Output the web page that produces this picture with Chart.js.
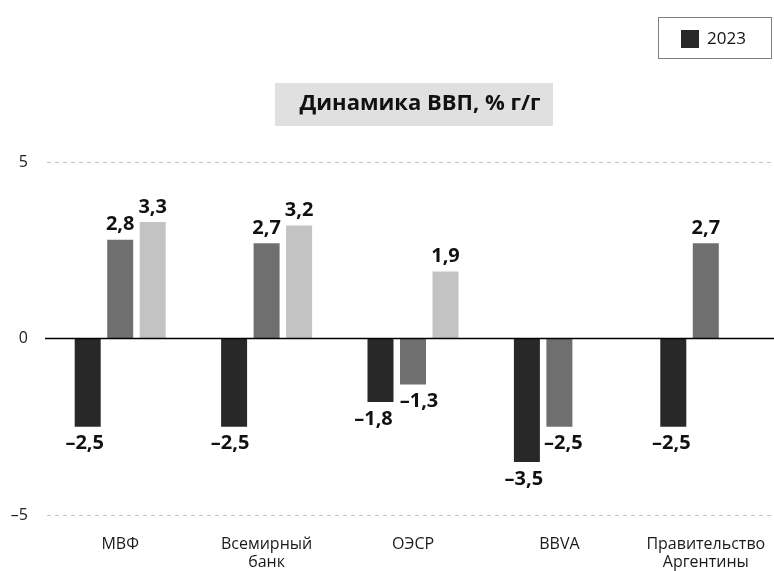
<!DOCTYPE html>
<html lang="ru">
<head>
<meta charset="utf-8">
<script src="https://cdn.jsdelivr.net/npm/chart.js@4.4.1/dist/chart.umd.min.js"></script>
<style>
    html, body { margin: 0; padding: 0; background: #fff; overflow: hidden; }
    #wrap { width: 780px; height: 571px; }
</style>
</head>
<body>
<div id="wrap"><canvas id="gdpChart" width="780" height="571"></canvas></div>
<script>
// Данные
const categories = [['МВФ'], ['Всемирный', 'банк'], ['ОЭСР'], ['BBVA'], ['Правительство', 'Аргентины']];
const years = ['2023', '2024', '2025'];
const values2023 = [-2.5, -2.5, -1.8, -3.5, -2.5];
const values2024 = [2.8, 2.7, -1.3, -2.5, 2.7];
const values2025 = [3.3, 3.2, 1.9, null, null];
const yTicks = [-5, 0, 5];
const chartTitle = 'Динамика ВВП, % г/г';

const colors = ['#282828', '#6f6f6f', '#c3c3c3'];
const FONT = '"Open Sans", "Noto Sans", sans-serif';

function fmt(v) {
    const s = Math.abs(v).toFixed(1).replace('.', ',');
    return v < 0 ? '–' + s : s;
}

// подписи значений над/под столбцами
const labelNudge = { '0-0': -3, '0-1': -4, '0-2': -7, '0-3': -3, '0-4': -2, '1-2': 6, '1-3': 4 };
const valueLabels = {
    id: 'valueLabels',
    afterDatasetsDraw(chart) {
        const ctx = chart.ctx;
        ctx.save();
        ctx.font = 'bold 20px ' + FONT;
        ctx.fillStyle = '#111';
        ctx.textAlign = 'center';
        ctx.textBaseline = 'middle';
        chart.data.datasets.forEach((ds, i) => {
            chart.getDatasetMeta(i).data.forEach((bar, j) => {
                const v = ds.data[j];
                if (v === null || v === undefined) return;
                const dx = labelNudge[i + '-' + j] || 0;
                const y = v >= 0 ? bar.y - 15 : bar.y + 17;
                ctx.fillText(fmt(v), bar.x + dx, y);
            });
        });
        ctx.restore();
    }
};

// нулевая линия, заголовок и легенда
const decorations = {
    id: 'decorations',
    afterDatasetsDraw(chart) {
        const ctx = chart.ctx;
        const y0 = chart.scales.y.getPixelForValue(0);
        ctx.save();
        ctx.strokeStyle = '#000';
        ctx.lineWidth = 1.5;
        ctx.beginPath();
        ctx.moveTo(45, y0);
        ctx.lineTo(chart.width, y0);
        ctx.stroke();
        ctx.restore();
    },
    afterDraw(chart) {
        const ctx = chart.ctx;
        ctx.save();
        // заголовок
        ctx.fillStyle = '#e0e0e0';
        ctx.fillRect(275, 83, 278, 43);
        ctx.fillStyle = '#111';
        ctx.font = 'bold 22px ' + FONT;
        ctx.textAlign = 'center';
        ctx.textBaseline = 'middle';
        ctx.fillText(chartTitle, 420, 104);
        // легенда (только первая серия)
        ctx.strokeStyle = '#808080';
        ctx.lineWidth = 1;
        ctx.strokeRect(658.5, 17.5, 113, 41);
        ctx.fillStyle = chart.data.datasets[0].backgroundColor;
        ctx.fillRect(681, 30, 18, 18);
        ctx.fillStyle = '#111';
        ctx.font = '17px ' + FONT;
        ctx.textAlign = 'left';
        ctx.fillText(chart.data.datasets[0].label, 707, 39);
        ctx.restore();
    }
};

new Chart(document.getElementById('gdpChart'), {
    type: 'bar',
    data: {
        labels: categories,
        datasets: [values2023, values2024, values2025].map((d, i) => ({
            label: years[i],
            data: d,
            backgroundColor: colors[i],
            borderWidth: 0,
            categoryPercentage: 0.666,
            barPercentage: 0.8
        }))
    },
    options: {
        responsive: false,
        animation: false,
        layout: { padding: { top: 162, left: 0, right: 1, bottom: 0 } },
        plugins: {
            legend: { display: false },
            title: { display: false },
            tooltip: { enabled: false }
        },
        scales: {
            x: {
                grid: { display: false, drawTicks: false },
                border: { display: false },
                ticks: { color: '#1a1a1a', font: { family: FONT, size: 16, lineHeight: 1.15 }, padding: 20, maxRotation: 0, autoSkip: false },
                afterFit(scale) {
                    scale.height = 56;
                    scale.paddingLeft = 0;
                    scale.paddingRight = 0;
                }
            },
            y: {
                min: -5,
                max: 5,
                afterBuildTicks(scale) { scale.ticks = yTicks.map(v => ({ value: v })); },
                grid: {
                    drawTicks: false,
                    color: ctx => (ctx.tick && ctx.tick.value === 0) ? 'rgba(0,0,0,0)' : '#c4c4c4',
                    lineWidth: 1
                },
                border: { display: false, dash: [4, 4] },
                ticks: {
                    color: '#222',
                    font: { family: FONT, size: 16 },
                    padding: 19,
                    callback: v => v < 0 ? '–' + Math.abs(v) : String(v)
                },
                afterFit(scale) {
                    scale.width = 47;
                    scale.paddingTop = 0;
                    scale.paddingBottom = 0;
                }
            }
        }
    },
    plugins: [valueLabels, decorations]
});
</script>
</body>
</html>
